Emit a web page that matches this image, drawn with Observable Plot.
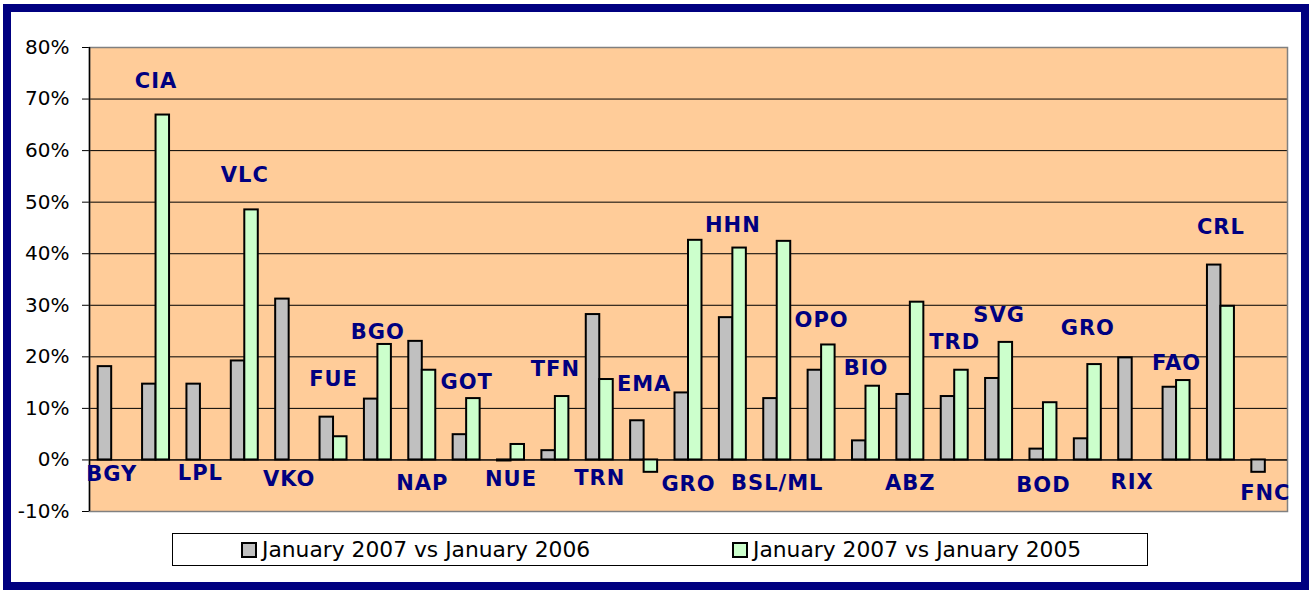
<!DOCTYPE html>
<html>
<head>
<meta charset="utf-8">
<script src="https://cdn.jsdelivr.net/npm/d3@7"></script>
<script src="https://cdn.jsdelivr.net/npm/@observablehq/plot@0.6"></script>
<style>
  html, body { margin: 0; padding: 0; background: #fff; width: 1309px; height: 590px; overflow: hidden; }
  #frame { position: absolute; left: 3px; top: 4px; width: 1306px; height: 586px; box-sizing: border-box; border: 8px solid #000080; }
  #chart { position: absolute; left: 0; top: 0; }
  #legend { position: absolute; left: 172px; top: 533px; width: 976px; height: 33px; box-sizing: border-box; border: 1px solid #000; background: #fff; font-family: "DejaVu Sans", sans-serif; font-size: 21.8px; color: #000; }
  .item { position: absolute; top: 0; height: 31px; line-height: 31px; white-space: nowrap; }
  .sw { position: absolute; top: 8px; width: 12px; height: 12px; border: 2px solid #000; }
  .lt { position: absolute; left: 21px; top: 0; }
  g[aria-label="text"] text { letter-spacing: 1px; }
</style>
</head>
<body>
<div id="chart"></div>
<div id="frame"></div>
<div id="legend"></div>
<script>
// ---- data ----
const categories = ["BGY","CIA","LPL","VLC","VKO","FUE","BGO","NAP","GOT","NUE","TFN","TRN","EMA","GRO","HHN","BSL/ML","OPO","BIO","ABZ","TRD","SVG","BOD","GRO","RIX","FAO","CRL","FNC"];
const seriesNames = ["January 2007 vs January 2006", "January 2007 vs January 2005"];
const vs2006 = [18.1,14.7,14.7,19.2,31.2,8.3,11.8,23.0,4.9,-0.2,1.8,28.2,7.6,13.0,27.6,11.9,17.4,3.7,12.7,12.3,15.8,2.1,4.1,19.8,14.1,37.8,-2.4];
const vs2005 = [null,66.9,null,48.5,null,4.5,22.4,17.4,11.9,3.0,12.3,15.6,-2.4,42.6,41.1,42.4,22.3,14.3,30.6,17.4,22.8,11.1,18.5,null,15.4,29.8,null];
// label anchors (value, in %) as placed in the original chart
const labelAt = [-2.8,73.5,-2.5,55.3,-3.8,15.6,24.7,-4.6,15.0,-3.8,17.5,-3.6,14.6,-4.8,45.6,-4.6,27.0,17.7,-4.6,22.9,28.0,-5.0,25.5,-4.4,18.7,45.2,-6.5];
const yTicks = [-10,0,10,20,30,40,50,60,70,80];

// ---- build ----
const colors = ["#C0C0C0", "#CCFFCC"];
const barW = 0.304; // fraction of a category slot per bar
const rows = categories.map((c, i) => ({i, c, a: vs2006[i], b: vs2005[i], lab: labelAt[i]}));
const rowsA = rows.filter(d => d.a != null);
const rowsB = rows.filter(d => d.b != null);

const chart = Plot.plot({
  width: 1309,
  height: 530,
  marginLeft: 89,
  marginRight: 22,
  marginTop: 47,
  marginBottom: 19,
  style: {fontFamily: "'DejaVu Sans', sans-serif", fontSize: "20px", color: "#000", background: "transparent", overflow: "visible"},
  x: {type: "linear", domain: [-0.5, categories.length - 0.5], axis: null},
  y: {domain: [-10, 80], ticks: yTicks, tickFormat: d => d + "%", tickSize: 7, tickPadding: 13, label: null},
  marks: [
    Plot.frame({fill: "#FFCC99"}),
    Plot.gridY(yTicks, {stroke: "#000", strokeOpacity: 1}),
    Plot.frame({stroke: "#808080", strokeWidth: 1.5}),
    Plot.ruleX([-0.5], {stroke: "#000", strokeWidth: 1.5}),
    Plot.ruleY([0], {stroke: "#000"}),
    Plot.rect(rowsA, {x1: d => d.i - barW, x2: d => d.i, y1: 0, y2: "a", fill: colors[0], stroke: "#000", strokeWidth: 2}),
    Plot.rect(rowsB, {x1: d => d.i, x2: d => d.i + barW, y1: 0, y2: "b", fill: colors[1], stroke: "#000", strokeWidth: 2}),
    Plot.text(rows, {x: "i", y: "lab", text: "c", fill: "#000080", fontWeight: "bold", fontSize: 21})
  ]
});
document.getElementById("chart").appendChild(chart);

// ---- legend ----
const legend = document.getElementById("legend");
const legendX = [68, 559];
seriesNames.forEach((name, k) => {
  const it = document.createElement("div");
  it.className = "item";
  it.style.left = legendX[k] + "px";
  const sw = document.createElement("div");
  sw.className = "sw";
  sw.style.background = colors[k];
  const t = document.createElement("span");
  t.className = "lt";
  t.textContent = name;
  it.appendChild(sw);
  it.appendChild(t);
  legend.appendChild(it);
});
</script>
</body>
</html>
